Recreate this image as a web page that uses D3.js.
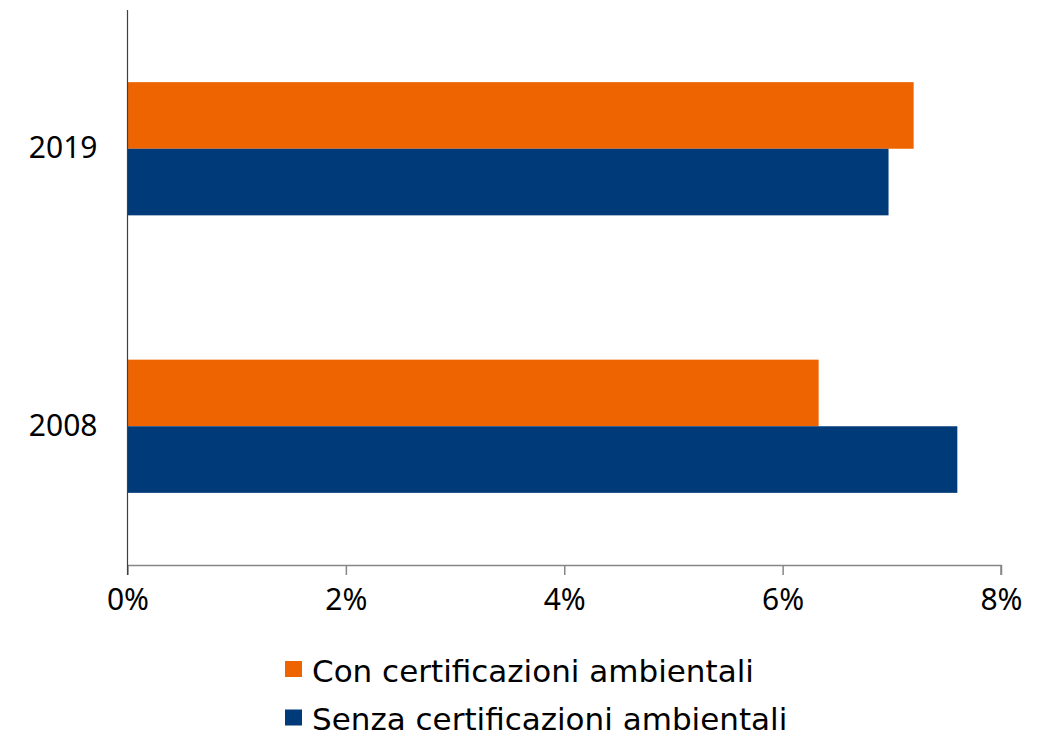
<!DOCTYPE html>
<html>
<head>
<meta charset="utf-8">
<script src="https://cdn.jsdelivr.net/npm/d3@7"></script>
<style>
  html, body { margin: 0; padding: 0; background: #fff; }
  svg { display: block; }
  text { font-family: "Noto Sans", "DejaVu Sans", sans-serif; fill: #000; }
  .legend-label { font-family: "DejaVu Sans", "Noto Sans", sans-serif; }
</style>
</head>
<body>
<svg id="chart" width="1053" height="736"></svg>
<script>
// Years shown on the vertical axis, top to bottom
const years = ["2019", "2008"];
// Series names (legend order)
const series = ["Con certificazioni ambientali", "Senza certificazioni ambientali"];
const seriesColors = ["#EE6400", "#003A78"];
// Share values in percent, aligned with `years`
const conCert = [7.20, 6.33];
const senzaCert = [6.97, 7.60];
// X axis ticks
const xTicks = [0, 2, 4, 6, 8];

const values = [conCert, senzaCert];
const rows = years.flatMap((y, i) => series.map((s, j) => ({ year: y, series: s, idx: j, value: values[j][i] })));

const svg = d3.select("#chart");
const margin = { left: 127.5, right: 52, top: 10, bottom: 171 };
const W = 1053, H = 736;

const x = d3.scaleLinear().domain([0, 8]).range([margin.left, W - margin.right]);
const y = d3.scaleBand().domain(years).range([margin.top, H - margin.bottom])
  .paddingInner(0.52).paddingOuter(0.26);
const ySub = d3.scaleBand().domain(series).range([0, y.bandwidth()]);

// Bars
svg.append("g").selectAll("rect").data(rows).join("rect")
  .attr("x", x(0))
  .attr("y", d => y(d.year) + ySub(d.series))
  .attr("width", d => x(d.value) - x(0))
  .attr("height", ySub.bandwidth())
  .attr("fill", d => seriesColors[d.idx]);

// X axis
const xAxis = svg.append("g")
  .attr("transform", `translate(0,${H - margin.bottom})`)
  .call(d3.axisBottom(x).tickValues(xTicks).tickFormat(d => d + "%").tickSize(10).tickPadding(14));
xAxis.select(".domain").attr("stroke", "#868686").attr("stroke-width", 1.5)
  .attr("d", `M${x(0)},0.5H${x(8)}V10`);
xAxis.selectAll(".tick line").attr("stroke", "#868686").attr("stroke-width", 1.5);
xAxis.selectAll(".tick text").style("font-size", "30px").attr("fill", "#000");

// Y axis
const yAxis = svg.append("g")
  .attr("transform", `translate(${x(0)},0)`)
  .call(d3.axisLeft(y).tickSize(0).tickPadding(30));
yAxis.select(".domain").attr("stroke", "#404040").attr("stroke-width", 1.2)
  .attr("d", `M0,${margin.top}V${H - margin.bottom + 10}`);
yAxis.selectAll(".tick text").style("font-size", "30px").attr("fill", "#000");

// Legend
const legend = svg.append("g").selectAll("g").data(series).join("g")
  .attr("transform", (d, i) => `translate(285,${661 + i * 48.5})`);
legend.append("rect").attr("width", 17).attr("height", 16)
  .attr("fill", (d, i) => seriesColors[i]);
legend.append("text").attr("class", "legend-label").attr("x", 27).attr("y", 20.5)
  .style("font-size", "31px").text(d => d);
</script>
</body>
</html>
